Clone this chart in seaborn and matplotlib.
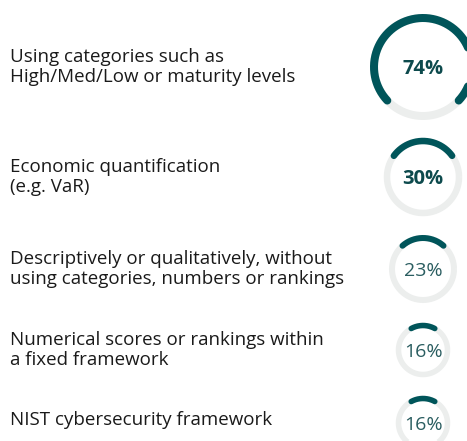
import numpy as np
import pandas as pd
import matplotlib
matplotlib.use("Agg")
import matplotlib.pyplot as plt
import seaborn as sns

# ---- data ----
categories = [
    "Using categories such as\nHigh/Med/Low or maturity levels",
    "Economic quantification\n(e.g. VaR)",
    "Descriptively or qualitatively, without\nusing categories, numbers or rankings",
    "Numerical scores or rankings within\na fixed framework",
    "NIST cybersecurity framework",
]
values = [74, 30, 23, 16, 16]
value_labels = ["74%", "30%", "23%", "16%", "16%"]

# ---- style / layout ----
row_y = [67, 177, 269, 350, 423]          # ring centres (px from top)
ring_x = 423
radii = [49, 36, 31, 24.5, 24.5]          # stroke-centre radius (px)
widths_px = [8, 6.5, 6, 5.5, 5.5]
bold = [True, True, False, False, False]
text_y = [67, 177, 269, 350, 420]

TEAL = "#00555a"
TRACK = "#eceeed"
TXT = "#1a1a1a"

sns.set_theme(style="white")
plt.rcParams["font.family"] = ["Open Sans", "DejaVu Sans"]

W, H, DPI = 467, 441, 100
fig = plt.figure(figsize=(W / DPI, H / DPI), dpi=DPI)
ax = fig.add_axes([0, 0, 1, 1])
ax.set_xlim(0, W)
ax.set_ylim(H, 0)
ax.set_aspect("equal")
ax.axis("off")

px2pt = 72 / DPI
theta_full = np.linspace(0, 2 * np.pi, 361)

for i, (cat, v, lab) in enumerate(zip(categories, values, value_labels)):
    cy, r, lw = row_y[i], radii[i], widths_px[i] * px2pt
    # track
    ax.plot(ring_x + r * np.cos(theta_full), cy + r * np.sin(theta_full),
            color=TRACK, lw=lw, solid_capstyle="butt", zorder=1)
    # value arc centred on top
    half = v / 100 * np.pi
    th = np.linspace(-np.pi / 2 - half, -np.pi / 2 + half, 200)
    arc = pd.DataFrame({"x": ring_x + r * np.cos(th), "y": cy + r * np.sin(th)})
    sns.lineplot(data=arc, x="x", y="y", sort=False, ax=ax, color=TEAL,
                 lw=lw, solid_capstyle="round", zorder=2, estimator=None)
    ax.text(ring_x, cy, lab, ha="center", va="center_baseline",
            fontsize=14.5 if bold[i] else 14, fontweight="bold" if bold[i] else "normal",
            color="#0d4a4d" if bold[i] else "#2a5d60", zorder=3)
    ax.text(10, text_y[i], cat, ha="left", va="center", fontsize=13.5,
            color=TXT, linespacing=1.1)

ax.set_xlim(0, W)
ax.set_ylim(H, 0)
ax.set_xlabel("")
ax.set_ylabel("")
fig.savefig("out.png", dpi=DPI)
